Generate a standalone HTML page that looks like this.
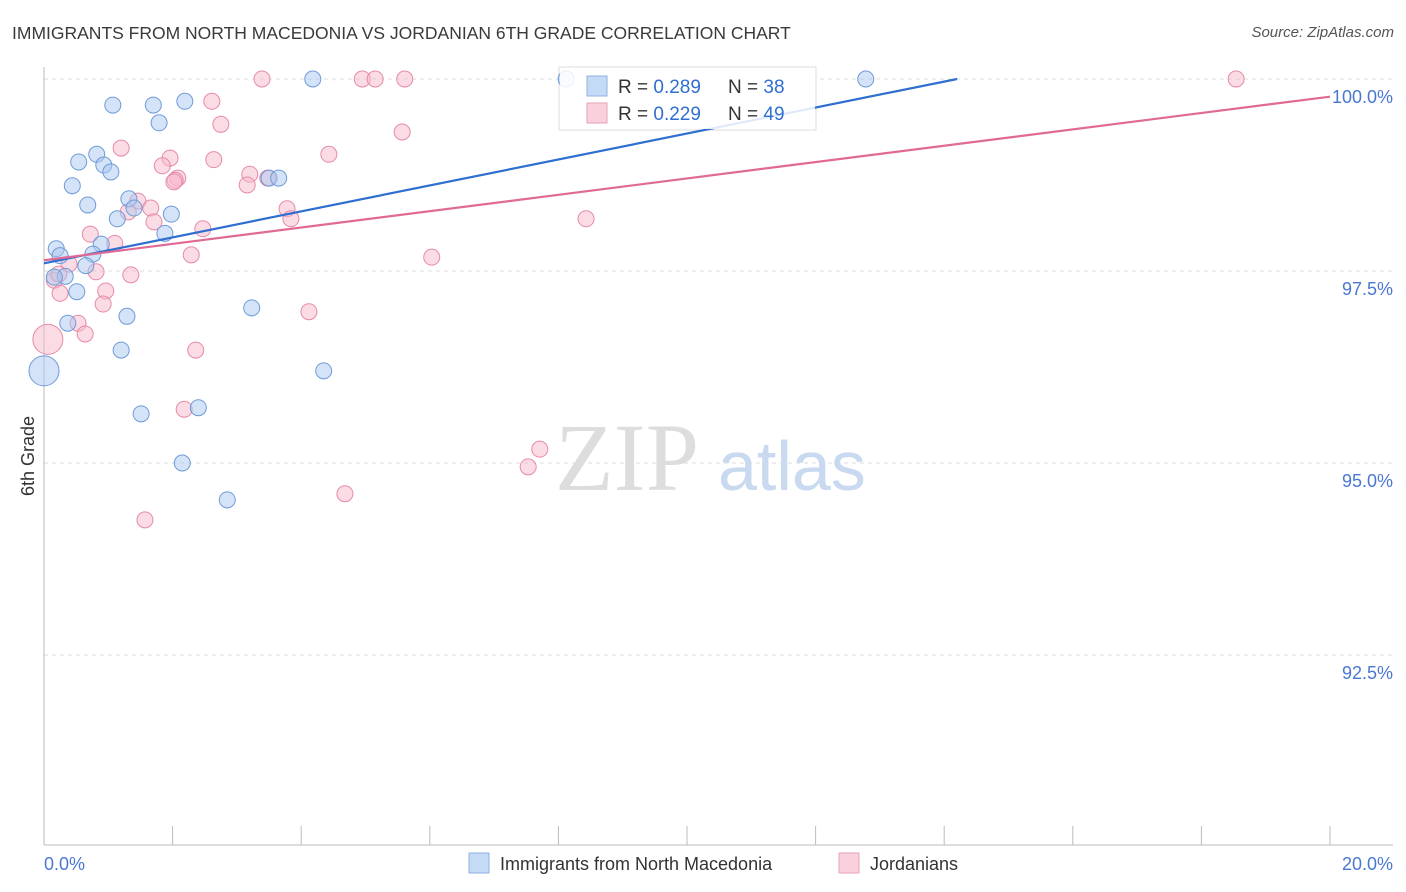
<!DOCTYPE html>
<html><head><meta charset="utf-8">
<style>
body{margin:0;background:#fff;font-family:"Liberation Sans",sans-serif;}
#wrap{position:relative;width:1406px;height:892px;overflow:hidden;}
.title{position:absolute;left:12px;top:23px;font-size:17.5px;color:#3a3a3a;}
.source{position:absolute;right:12px;top:24px;font-size:15px;color:#555;font-style:italic;}
</style></head>
<body>
<div id="wrap">
<div class="title">IMMIGRANTS FROM NORTH MACEDONIA VS JORDANIAN 6TH GRADE CORRELATION CHART</div>
<div class="source">Source: ZipAtlas.com</div>
<svg id="svg" width="1406" height="892" style="position:absolute;left:0;top:0"></svg>
</div>
<script>
const xTicksLabels=["0.0%","20.0%"];
const yTickValues=[100,97.5,95,92.5];
const yTickLabels=["100.0%","97.5%","95.0%","92.5%"];
const blueX=[8.12,4.18,12.78,1.07,1.70,2.19,1.79,0.82,0.54,0.93,1.04,0.44,3.50,3.65,0.68,1.32,1.40,1.14,1.98,1.88,0.19,0.25,0.89,0.76,0.65,0.33,0.16,0.51,0.37,1.29,3.23,1.20,0,4.35,1.51,2.40,2.15,2.85];
const blueY=[100,100,100,99.66,99.66,99.71,99.43,99.02,98.92,98.88,98.79,98.61,98.71,98.71,98.36,98.44,98.32,98.18,98.24,97.99,97.79,97.70,97.85,97.72,97.57,97.43,97.42,97.23,96.82,96.91,97.02,96.47,96.20,96.20,95.64,95.72,95.00,94.52];
const blueBig=[32];
const pinkX=[3.39,4.95,5.15,5.61,18.54,2.61,2.75,5.57,1.20,4.43,1.96,2.64,1.84,2.08,2.04,3.20,3.16,3.48,1.46,1.66,1.31,3.78,3.84,8.43,1.71,2.47,0.72,1.10,2.29,6.03,0.39,0.81,1.35,0.16,0.25,0.96,0.92,4.12,0.53,0.64,0.06,2.36,2.18,7.71,7.53,4.68,1.57,0.23,2.02];
const pinkY=[100,100,100,100,100,99.71,99.41,99.31,99.10,99.02,98.97,98.95,98.87,98.71,98.68,98.76,98.62,98.71,98.41,98.32,98.27,98.31,98.18,98.18,98.14,98.05,97.98,97.86,97.71,97.68,97.59,97.49,97.45,97.38,97.21,97.24,97.07,96.97,96.82,96.68,96.61,96.47,95.70,95.18,94.95,94.60,94.26,97.46,98.66];
const pinkBig=[40];
const blueTrend=[97.60,0.169];
const pinkTrend=[97.64,0.1065];
const legendR=["0.289","0.229"], legendN=["38","49"];

const X0=44,X1=1330,YT=79;
const xs=v=>X0+(v/20)*(X1-X0);
const ys=v=>YT+(100-v)*76.8;
const svg=document.getElementById('svg');
const NS='http://www.w3.org/2000/svg';
function mk(t,a,p){const e=document.createElementNS(NS,t);for(const k in a)e.setAttribute(k,a[k]);(p||svg).appendChild(e);return e;}

yTickValues.forEach((v,i)=>{
 const g=mk('line',{x1:44,x2:1393,y1:ys(v),y2:ys(v),stroke:'#ddd','stroke-dasharray':'4,4'});
 
 
 const t=mk('text',{x:1393,y:ys(v)+24,'text-anchor':'end','font-size':18,fill:'#4a78d0'});
 t.textContent=yTickLabels[i];
 
 
});
const ax=mk('line',{x1:44,x2:44,y1:67,y2:845,stroke:'#bbb'});

const bx=mk('line',{x1:44,x2:1393,y1:845,y2:845,stroke:'#bbb'});

for(let i=0;i<=10;i++){const tk=mk('line',{x1:xs(i*2),x2:xs(i*2),y1:826,y2:845,stroke:'#bbb'});
 }
[[xs(0),'start'],[xs(20)+63,'end']].forEach((p,i)=>{const t=mk('text',{x:p[0],y:870,'text-anchor':p[1],'font-size':18,fill:'#4a78d0'});t.textContent=xTicksLabels[i];
 });
const yl=mk('text',{x:34,y:456,'text-anchor':'middle','font-size':18,fill:'#333',transform:'rotate(-90 34 456)'});
yl.textContent='6th Grade';
const wm=mk('text',{x:555,y:490,'font-size':96,fill:'#ddd','font-family':'Liberation Serif'});
wm.textContent='ZIP';
const wm2=mk('text',{x:718,y:490,'font-size':70,fill:'#c9d9f0'});
wm2.textContent='atlas';
// legend box behind points
const lb=mk('rect',{x:559,y:67,width:257,height:63,fill:'#fff',stroke:'#ddd'});

function trend(tr,col,name){let xe=20,ye=tr[0]+tr[1]*20;if(ye>100){xe=(100-tr[0])/tr[1];ye=100;}
 const l=mk('line',{x1:xs(0),y1:ys(tr[0]),x2:xs(xe),y2:ys(ye),stroke:col,'stroke-width':2.2});
 }
function pts(X,Y,big,fill,stroke,name){X.forEach((x,i)=>{const r=big.includes(i)?15:8;
 const c=mk('circle',{cx:xs(x),cy:ys(Y[i]),r:r,fill:fill,stroke:stroke,'stroke-width':1,'fill-opacity':0.5});
 });}
pts(pinkX,pinkY,pinkBig,'#f7b9cc','#e68aa8','jordanians-point');
pts(blueX,blueY,blueBig,'#a9c8f0','#6f9bd8','north-macedonia-point');
trend(blueTrend,'#2f6fd0','north-macedonia-trend');
trend(pinkTrend,'#e06a95','jordanians-trend');
const lb2=mk('rect',{x:560,y:68,width:255,height:61,fill:'#fff','fill-opacity':0.85});

[['#c5daf5','#8fb2e3'],['#fbd0dd','#eaa2bb']].forEach((c,i)=>{const y=76+i*27;
 const r=mk('rect',{x:587,y:y,width:20,height:20,fill:c[0],stroke:c[1]});
 
 const t=mk('text',{x:618,y:y+17,'font-size':19,fill:'#333'});
 t.innerHTML='R = <tspan fill="#2f6fd0">'+legendR[i]+'</tspan><tspan x="728">N = </tspan><tspan fill="#2f6fd0">'+legendN[i]+'</tspan>';
 });
[['#c5daf5','#8fb2e3','Immigrants from North Macedonia',469],['#fbd0dd','#eaa2bb','Jordanians',839]].forEach(c=>{
 const r=mk('rect',{x:c[3],y:853,width:20,height:20,fill:c[0],stroke:c[1]});
 
 const t=mk('text',{x:c[3]+31,y:870,'font-size':18,fill:'#333'});t.textContent=c[2];
 });
</script>
</body></html>
